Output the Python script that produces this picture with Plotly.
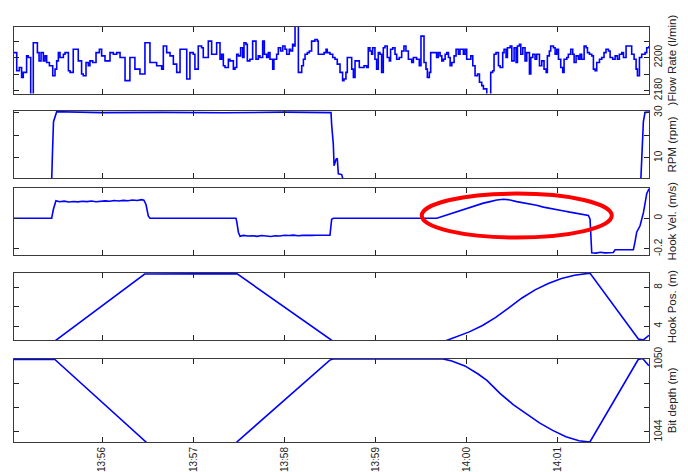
import pandas as pd
import plotly.graph_objects as go

BASE = pd.Timestamp("2014-01-01 13:55:00")

# ---------------- data (t = seconds after 13:55:00) ----------------
flow_t = [2, 2.7, 3.8, 5.5, 7.0, 8.1, 10.3, 11.4, 13.0, 14.3, 14.7, 16.5, 17.4, 18.5, 19.8, 21.3, 22.4,
          23.5, 25.3, 27.5, 29.0, 30.1, 31.2, 32.3, 34.5, 35.6, 37.8, 38.9, 41.0, 43.2, 44.3, 46.5,
          47.6, 49.4, 50.9, 52.0, 53.8, 56.0, 58.2, 59.7, 61.9, 65.2, 67.4, 69.6, 71.8, 75.1, 76.2,
          78.3, 81.6, 84.9, 88.2, 89.3, 91.5, 95.9, 99.2, 100.3, 102.5, 104.7, 106.9, 109.1, 111.3,
          113.5, 115.7, 117.8, 120.0, 121.1, 123.3, 125.5, 126.6, 129.9, 132.1, 135.4, 137.6,
          138.7, 139.8, 140.9, 143.1, 144.2, 146.4, 147.5, 148.6, 149.7, 151.2, 152.5, 153.4, 154.7,
          155.6, 157.3, 159.1, 160.2, 161.3, 162.8, 163.9, 165.7, 166.8, 168.3, 169.4, 170.5, 172.3,
          173.1, 174.9, 176.0, 177.5, 178.9, 180.4, 181.5, 183.2, 184.1, 185.4, 186.3, 187.0, 188.5,
          189.2, 190.3, 191.4, 192.5, 193.6, 195.1, 196.4, 197.9, 200.1, 201.7, 202.3, 204.5, 206.1,
          207.4, 208.2, 210.0, 211.8, 213.3, 214.8, 216.6, 218.3, 219.2, 220.5, 221.4, 222.7, 224.3,
          225.4, 226.5, 227.6, 229.3, 230.8, 232.4, 234.1, 235.2, 236.3, 237.4, 238.1, 239.6, 240.7,
          241.8, 242.9, 244.0, 245.1, 246.2, 247.7, 249.1, 249.9, 251.3, 252.8, 253.9, 255.6, 257.2,
          258.7, 260.0, 261.6, 263.8, 264.9, 267.0, 268.8, 269.9, 271.0, 271.9, 273.2, 274.1, 275.4,
          276.3, 278.0, 280.2, 281.3,
          282.5, 283.6, 284.7, 285.8, 286.9, 288.0, 289.1, 290.2, 291.7, 293.0, 294.5, 295.6, 296.7,
          297.8, 298.9, 300.0, 301.8, 302.7, 304.0, 305.5, 307.1, 308.4, 309.9, 311.0, 312.1, 313.2,
          315.0, 315.8, 317.1, 318.0, 319.3, 320.9, 322.0, 323.7, 324.6, 325.9, 326.8, 328.6, 329.7,
          331.2, 332.5, 333.4, 334.7, 335.6, 336.9, 338.4, 339.5, 341.3, 342.2, 343.5, 345.0, 346.1,
          347.9, 349.4, 350.9, 352.3, 353.1, 354.4, 355.3, 357.1, 358.2, 359.3, 360.4, 361.9, 363.2,
          364.1, 365.9, 366.9, 368.5, 369.8, 370.7, 372.0, 373.5, 374.6, 375.7, 377.3, 378.6, 379.5,
          380.8, 382.3, 383.4, 384.5, 385.6, 387.4, 388.9, 390.4, 391.7, 393.3, 394.4, 396.1, 397.7,
          399.2, 400.5, 402.1, 403.2, 404.9, 407.1, 408.6, 410.2, 411.5, 412.4, 413.7, 415.2, 417.4,
          418.5, 420]
flow_v = [2203, 2203, 2192, 2194, 2188, 2191, 2201, 2200, 2176, 2176, 2209, 2209, 2203, 2198, 2203, 2198, 2201,
          2197, 2195, 2189, 2193, 2198, 2203, 2200, 2202, 2203, 2192, 2191, 2205, 2205, 2198, 2190,
          2189, 2197, 2195, 2198, 2197, 2203, 2205, 2201, 2198, 2203, 2202, 2203, 2200, 2186, 2186,
          2200, 2193, 2190, 2209, 2209, 2197, 2195, 2193, 2207, 2203, 2201, 2196, 2191, 2205,
          2205, 2187, 2203, 2202, 2193, 2207, 2206, 2200, 2210, 2202, 2209, 2199,
          2202, 2195, 2194, 2199, 2198, 2193, 2194, 2202, 2201, 2206, 2200, 2209, 2208,
          2198, 2199, 2210, 2210, 2199, 2201, 2200, 2210, 2202, 2200, 2203, 2199, 2193,
          2199, 2202, 2206, 2204, 2207, 2205, 2202, 2205, 2204, 2208, 2207, 2219, 2219,
          2191, 2191, 2195, 2199, 2202, 2203, 2204, 2210, 2211, 2210, 2202, 2202, 2203,
          2205, 2203, 2202, 2200, 2199, 2196, 2191, 2186, 2187, 2191, 2200, 2200, 2193,
          2188, 2198, 2198, 2194, 2194, 2195, 2194, 2206, 2204, 2202, 2206, 2199, 2193,
          2203, 2202, 2191, 2206, 2207, 2200, 2198, 2205, 2206, 2202, 2199, 2200, 2204,
          2207, 2204, 2199, 2197, 2200, 2199, 2195, 2213, 2213, 2197, 2193, 2188, 2191,
          2203, 2203, 2200, 2203,
          2201, 2198, 2199, 2202, 2203, 2200, 2195, 2197, 2201, 2205, 2202, 2205, 2205,
          2202, 2205, 2199, 2199, 2201, 2195, 2189, 2190, 2185, 2183, 2181, 2181, 2176,
          2176, 2191, 2192, 2202, 2203, 2195, 2194, 2203, 2205, 2200, 2206, 2207, 2198,
          2206, 2197, 2207, 2208, 2202, 2206, 2198, 2203, 2190, 2200, 2202, 2199, 2202,
          2195, 2198, 2193, 2191, 2201, 2204, 2207, 2206, 2202, 2205, 2199, 2194, 2191,
          2199, 2200, 2202, 2205, 2202, 2197, 2201, 2199, 2202, 2199, 2207, 2206, 2203,
          2202, 2201, 2193, 2192, 2197, 2199, 2200, 2203, 2205, 2204, 2200, 2199, 2201,
          2199, 2202, 2203, 2200, 2207, 2207, 2202, 2199, 2193, 2189, 2200, 2202, 2203,
          2206, 2207]

rpm_t = [2, 26.8, 27.3, 28.0, 30.1, 60, 100, 140, 180, 210.7, 211.1, 212.2, 212.7, 214.0, 214.8,
         215.5, 217.7, 218.8, 414.6, 415.2, 416.3, 417.4, 420]
rpm_v = [0, 0, 11.6, 26, 30.4, 30.0, 30.1, 29.9, 30.2, 30.0, 24.6, 16, 6.5, 9.4, 9.8,
         2.9, 2.6, 0, 0, 11.6, 26, 30.1, 30.2]

vel_t = [2, 26.8, 27.9, 29.6, 32, 35, 38, 41, 44, 47, 50, 53, 56, 59, 62, 65, 68, 71, 74, 77, 80, 83,
         86, 87.5, 88.9, 90.4, 91.5, 148.1, 148.6, 149.7, 150.8, 153, 156, 159, 162, 165, 168, 171,
         174, 177, 180, 183, 186, 189, 192, 195, 198, 201, 204, 207, 210, 211.1, 212.2,
         280.3, 284, 289.0, 293, 297.8, 302, 306.6, 311, 315.4, 319.8, 324.1, 328.5, 332.9, 337,
         341.7, 346, 350.5, 355, 359.3, 364, 368.0, 372, 376.8, 380.1, 381.2, 382.3, 385, 388, 391,
         394, 396.5, 397.7, 401, 404, 407, 409.7, 410.8, 411.9, 414.1, 416.3, 417.4, 418.5, 420]
vel_v = [0, 0, 0.057, 0.115, 0.108, 0.112, 0.106, 0.110, 0.107, 0.111, 0.109, 0.113, 0.108, 0.110,
         0.114, 0.111, 0.116, 0.113, 0.117, 0.115, 0.119, 0.116, 0.122, 0.118, 0.09, 0.015, 0, 0,
         -0.02, -0.091, -0.118, -0.112, -0.116, -0.114, -0.118, -0.113, -0.115, -0.119, -0.114,
         -0.116, -0.111, -0.113, -0.110, -0.114, -0.112, -0.110, -0.112, -0.111, -0.110, -0.112,
         -0.110, -0.006, 0,
         0, 0.012, 0.029, 0.04, 0.057, 0.072, 0.088, 0.099, 0.109, 0.12, 0.124, 0.12, 0.109, 0.103,
         0.095, 0.085, 0.073, 0.066, 0.057, 0.048, 0.04, 0.034, 0.025, 0.019, -0.006, -0.225,
         -0.228, -0.222, -0.226, -0.223, -0.224, -0.206, -0.205, -0.207, -0.205, -0.206, -0.154,
         -0.091, -0.049, 0.035, 0.098, 0.161, 0.193]

pos_t = [2, 28.9, 88.0, 120, 130, 148.7, 210.8, 212, 285.7, 293.1, 301.7, 310.4, 319.1, 327.7,
         336.4, 345.0, 353.7, 362.4, 371.0, 381.1, 413.0, 416.3, 419.6, 420]
pos_v = [2.45, 2.45, 9.4, 9.4, 9.45, 9.45, 2.56, 2.45, 2.45, 2.9, 3.4, 4.07, 4.9, 5.9,
         6.92, 7.76, 8.43, 8.94, 9.27, 9.5, 2.66, 2.56, 3.0, 3.05]

depth_t = [2, 28.9, 88.9, 90, 148.0, 148.7, 209.9, 212, 284.4, 290.2, 298.8, 307.5, 313.3, 321.9,
           330.6, 339.3, 347.9, 356.6, 365.3, 373.9, 379.7, 381.1, 412.9, 415.8, 419.5, 420]
depth_v = [1050, 1050, 1043.17, 1043.0, 1043.0, 1043.17, 1049.95, 1050.05, 1050.05, 1049.87,
           1049.47, 1048.8, 1048.27, 1047.2, 1046.27, 1045.47, 1044.75, 1044.13, 1043.6, 1043.28,
           1043.17, 1043.17, 1050, 1050.08, 1049.55, 1049.5]

x_tick_sec = [60, 120, 180, 240, 300, 360]
x_tick_text = ["13:56", "13:57", "13:58", "13:59", "14:00", "14:01"]

titles = [")Flow Rate (l/min)", "RPM (rpm)", "Hook Vel. (m/s)", "Hook Pos. (m)", "Bit depth (m)"]
y_ranges = [[2178.2, 2218.8], [1.1, 30.7], [-0.238, 0.2], [2.55, 9.5], [1043.17, 1050.08]]
y_tickvals = [[2180, 2190, 2200, 2210], [10, 20, 30], [-0.2, 0], [4, 6, 8], [1044, 1046, 1048, 1050]]
y_ticktext = [["2180", "", "2200", ""], ["10", "", "30"], ["-0.2", "0"], ["4", "", "8"],
              ["1044", "", "", "1050"]]

# ellipse highlight (data coordinates on hook-velocity panel)
ell_t = [270.4, 395.5]
ell_v = [-0.126, 0.1615]

# ---------------- figure ----------------
def ts(sec_list):
    return [BASE + pd.Timedelta(seconds=s) for s in sec_list]

series = [(flow_t, flow_v, "hv"), (rpm_t, rpm_v, "linear"), (vel_t, vel_v, "linear"),
          (pos_t, pos_v, "linear"), (depth_t, depth_v, "linear")]

H = 443.0
px_domains = [(15, 84), (102, 171), (181, 250), (269, 338), (357, 443)]
domains = [[(H - b) / H, (H - a) / H] for a, b in px_domains]

fig = go.Figure()
AX = "#3a3a3a"
FONT = "Liberation Sans, Arial, sans-serif"
x_range = [BASE + pd.Timedelta(seconds=2), BASE + pd.Timedelta(seconds=420)]

for i, (t, v, shape) in enumerate(series):
    n = "" if i == 0 else str(i + 1)
    fig.add_trace(go.Scatter(x=ts(t), y=v, mode="lines",
                             line=dict(color="#0000ff", width=1.6, shape=shape),
                             xaxis="x" + n, yaxis="y" + n, showlegend=False))
    fig.layout["xaxis" + n] = dict(
        domain=[0, 1], anchor="y" + n, type="date", range=x_range,
        tickvals=ts(x_tick_sec), ticktext=x_tick_text,
        ticks="inside", ticklen=5, tickcolor="#222", mirror="ticks", showline=True,
        linecolor=AX, linewidth=1, showgrid=False, zeroline=False,
        showticklabels=(i == 4), tickangle=-90,
        tickfont=dict(family=FONT, size=10, color="#222"),
        matches=None if i == 0 else "x",
    )
    fig.layout["yaxis" + n] = dict(
        domain=domains[i], anchor="x" + n, side="right", range=y_ranges[i],
        tickvals=y_tickvals[i], ticktext=y_ticktext[i],
        ticks="inside", ticklen=5, tickcolor="#222", mirror="ticks", showline=True,
        linecolor=AX, linewidth=1, showgrid=False, zeroline=False, tickangle=-90,
        tickfont=dict(family=FONT, size=10, color="#222"),
        title=dict(text=titles[i], font=dict(family=FONT, size=11.5, color="#222"), standoff=4),
    )

fig.add_shape(type="circle", xref="x3", yref="y3",
              x0=BASE + pd.Timedelta(seconds=ell_t[0]), x1=BASE + pd.Timedelta(seconds=ell_t[1]),
              y0=ell_v[0], y1=ell_v[1], line=dict(color="#ff0000", width=4))

fig.update_layout(width=688, height=472, margin=dict(l=14, r=39, t=0, b=29),
                  paper_bgcolor="white", plot_bgcolor="white",
                  font=dict(family=FONT, color="#222"))

fig.write_html("out.html")
